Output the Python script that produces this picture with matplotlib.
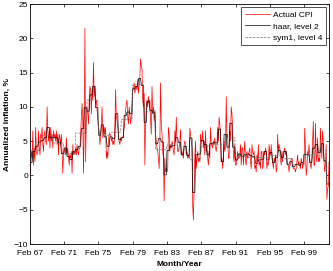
import numpy as np
import matplotlib
matplotlib.use("Agg")
import matplotlib.pyplot as plt

plt.rcParams['font.family'] = ['Liberation Sans', 'DejaVu Sans']

# annualized monthly CPI inflation, %, Feb 1967 .. Jan 2002
y1967 = [0.0, 1.5, 3.5, 2.5, 6.5, 1.5, 4.0, 2.0, 7.0, 3.5, 3.0]
y1968 = [3.5, 6.5, 4.0, 3.0, 6.0, 5.5, 7.0, 4.5, 3.5, 6.0, 6.5, 5.0]
y1969 = [4.5, 10.0, 6.5, 5.0, 6.5, 4.0, 7.0, 5.0, 6.0, 4.0, 6.5, 5.5]
y1970 = [6.0, 5.0, 6.5, 4.5, 6.0, 3.0, 6.0, 5.5, 4.5, 6.0, 3.5, 0.3]
y1971 = [3.0, 3.5, 4.0, 3.0, 5.5, 3.0, 4.0, 2.5, 1.5, 3.0, 2.5, 3.5]
y1972 = [0.3, 4.5, 3.0, 3.5, 3.0, 4.0, 3.0, 4.5, 3.5, 3.0, 4.0, 4.0]
y1973 = [6.0, 8.5, 10.5, 8.0, 0.3, 7.0, 21.5, 2.0, 9.0, 10.0, 9.0, 7.5]
y1974 = [11.0, 13.0, 12.5, 9.0, 12.5, 11.0, 16.5, 11.5, 13.0, 10.5, 11.0, 9.5]
y1975 = [8.5, 7.0, 6.5, 4.5, 5.5, 7.5, 10.0, 5.5, 6.5, 7.0, 6.0, 7.0]
y1976 = [2.5, 3.5, 2.5, 5.0, 6.0, 6.0, 6.0, 5.0, 5.5, 4.5, 5.0, 4.5]
y1977 = [7.5, 12.5, 8.5, 8.0, 7.0, 6.0, 5.0, 4.5, 5.5, 5.0, 5.5, 5.5]
y1978 = [6.0, 7.0, 8.0, 9.5, 10.5, 11.0, 8.5, 7.5, 10.0, 9.0, 7.5, 8.5]
y1979 = [11.0, 12.5, 12.5, 13.5, 12.0, 12.5, 13.0, 12.5, 14.0, 12.0, 13.0, 14.5]
y1980 = [17.0, 16.0, 15.5, 11.0, 10.0, 12.0, 1.5, 7.5, 10.0, 11.0, 10.0, 11.5]
y1981 = [10.5, 11.0, 8.0, 6.0, 13.0, 9.0, 10.0, 8.0, 9.5, 6.0, 5.0, 4.0]
y1982 = [3.5, 2.5, 1.0, 4.5, 13.5, 7.5, 6.0, 3.5, 2.5, -3.7, 2.5, 0.5]
y1983 = [1.0, 0.5, 1.0, 7.0, 6.0, 3.5, 4.5, 4.0, 5.0, 4.5, 3.5, 3.0]
y1984 = [6.5, 5.0, 8.5, 5.0, 3.5, 3.5, 4.0, 5.0, 6.7, 3.0, 3.5, 3.0]
y1985 = [2.5, 4.5, 5.0, 4.5, 3.0, 3.5, 2.5, 3.0, 2.5, 6.9, 6.0, 5.0]
y1986 = [4.0, -4.5, -6.5, -2.0, 3.0, 5.0, 1.0, 2.5, 3.5, 2.0, 2.5, 2.0]
y1987 = [6.0, 5.0, 5.0, 6.5, 4.0, 5.0, 3.0, 6.5, 3.5, 4.5, 2.5, 1.5]
y1988 = [3.5, 2.5, 7.0, 4.5, 4.5, 4.0, 5.0, 4.5, 5.5, 4.0, 3.5, 4.5]
y1989 = [7.0, 5.0, 8.5, 7.5, 6.0, 2.0, 2.5, 1.0, 2.5, 5.0, 3.5, 4.0]
y1990 = [11.5, 5.5, 6.0, 2.5, 2.5, 6.5, 5.0, 10.0, 9.0, 7.0, 3.0, 2.0]
y1991 = [4.5, 1.5, 1.5, 2.5, 3.5, 2.5, 2.5, 3.0, 4.5, 1.5, 4.0, 4.0]
y1992 = [1.5, 3.5, 5.0, 2.0, 1.5, 3.5, 2.5, 3.0, 3.5, 4.0, 2.0, 1.0]
y1993 = [4.5, 3.5, 3.0, 3.5, 1.0, 1.5, 0.5, 3.0, 2.0, 4.5, 1.5, 2.0]
y1994 = [1.0, 3.5, 3.5, 1.0, 1.5, 3.5, 3.0, 4.0, 3.5, 1.0, 2.0, 1.5]
y1995 = [4.5, 3.5, 3.0, 4.5, 2.5, 2.0, 1.0, 2.5, 2.0, 3.0, 0.5, 1.0]
y1996 = [6.0, 3.5, 4.5, 4.0, 2.5, 1.5, 3.5, 2.0, 3.5, 3.5, 4.0, 3.0]
y1997 = [3.5, 3.0, 1.5, 1.5, 0.5, 1.5, 1.5, 2.5, 2.5, 2.0, 1.0, 1.0]
y1998 = [1.0, 0.5, 1.0, 2.0, 3.0, 1.5, 2.0, 1.5, 1.0, 2.5, 2.0, 1.0]
y1999 = [2.0, 1.5, 6.9, 4.0, 0.0, 1.0, 3.5, 3.0, 4.5, 2.5, 1.5, 1.0]
y2000 = [2.5, 5.0, 7.9, 1.5, 1.5, 7.6, 3.0, 2.0, 5.5, 2.0, 2.5, 2.0]
y2001 = [6.9, 4.5, 2.5, 6.5, 5.0, 2.0, 0.5, 1.5, 4.5, -3.5, -2.0, -1.5]
y2002 = [2.0]

tick_labels = ['Feb 67', 'Feb 71', 'Feb 75', 'Feb 79', 'Feb 83',
               'Feb 87', 'Feb 91', 'Feb 95', 'Feb 99']

cpi = np.array(y1967 + y1968 + y1969 + y1970 + y1971 + y1972 + y1973 +
               y1974 + y1975 + y1976 + y1977 + y1978 + y1979 + y1980 +
               y1981 + y1982 + y1983 + y1984 + y1985 + y1986 + y1987 +
               y1988 + y1989 + y1990 + y1991 + y1992 + y1993 + y1994 +
               y1995 + y1996 + y1997 + y1998 + y1999 + y2000 + y2001 +
               y2002)
months = np.arange(1, len(cpi) + 1)


def haar_approx(x, level):
    # haar / sym1 approximation = block means of 2^level samples
    n = 2 ** level
    out = np.empty_like(x)
    for i in range(0, len(x), n):
        out[i:i + n] = x[i:i + n].mean()
    return out


haar2 = haar_approx(cpi, 2)
sym4 = haar_approx(cpi, 4)

fig = plt.figure(figsize=(3.33, 2.71), dpi=100)
ax = fig.add_axes([0.090, 0.0996, 0.898, 0.8856])

ax.plot(months, cpi, color='red', lw=0.5, label='Actual CPI')
ax.plot(months, haar2, color='black', lw=0.5, label='haar, level 2')
ax.plot(months, sym4, color='0.45', lw=0.5, ls='--', label='sym1, level 4')

ax.set_xlim(1, len(cpi))
ax.set_ylim(-10, 25)
ax.set_xticks(1 + 48 * np.arange(len(tick_labels)))
ax.set_xticklabels(tick_labels)
ax.set_yticks(np.arange(-10, 26, 5))
ax.tick_params(direction='in', length=2.5, width=0.5, labelsize=6,
               top=True, right=True, pad=1.5)
ax.tick_params(axis='x', pad=4)
for s in ax.spines.values():
    s.set_linewidth(0.6)

ax.set_xlabel('Month/Year', fontsize=6, fontweight='bold', labelpad=3)
ax.set_ylabel('Annualized inflation, %', fontsize=6, fontweight='bold',
              labelpad=2)

leg = ax.legend(loc='upper right', fontsize=6, frameon=True, fancybox=False,
                handlelength=3.0, handletextpad=0.4, labelspacing=0.45,
                borderpad=0.45, borderaxespad=0.35)
leg.get_frame().set_edgecolor('black')
leg.get_frame().set_linewidth(0.6)

fig.savefig('out.png', dpi=100)
